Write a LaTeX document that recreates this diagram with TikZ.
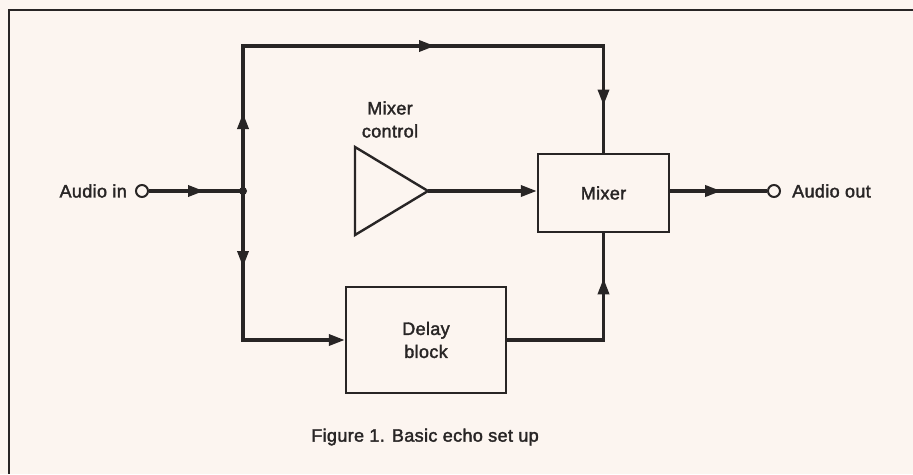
\documentclass[tikz,border=0pt]{standalone}
\usepackage{fontspec}
\setmainfont[FakeBold=2,LetterSpace=2]{Liberation Sans}
\usetikzlibrary{arrows.meta,decorations.markings}
\definecolor{paper}{RGB}{252,245,240}
\definecolor{ink}{RGB}{40,37,37}
\begin{document}
\begin{tikzpicture}[x=1pt,y=-1pt,
  lbl/.style={font=\fontsize{18}{23}\selectfont, text=ink, inner sep=0pt},
  box/.style={draw=ink, line width=2.4pt, lbl, align=center},
  wire/.style={draw=ink, line width=3.4pt},
  tip/.style={-{Triangle[length=16pt,width=11pt]}},
  mk/.style={postaction={decorate, decoration={markings, mark=at position #1 with {\arrow{Triangle[length=16pt,width=11pt]}}}}},
  port/.style={circle, draw=ink, line width=2pt, minimum size=12pt, inner sep=0pt, fill=paper}]
\fill[paper] (0,0) rectangle (913,474);
\useasboundingbox (0,0) rectangle (913,474);
\draw[ink, line width=2.4pt] (913,10) -- (9,10) -- (9,474);

% nodes
\node[port] (ain) at (142,191) {};
\node[lbl, anchor=east] (ainl) at (127,191) {Audio in};
\coordinate (junc) at (243,191);
\node[box, minimum width=131pt, minimum height=78pt] (mixer) at (603.5,193) {Mixer};
\node[port] (aout) at (774,191) {};
\node[lbl, anchor=west] (aoutl) at (792,191) {Audio out};
\node[box, minimum width=160pt, minimum height=106pt] (delay) at (426,340) {Delay\\block};
\node[lbl, align=center] (mc) at (390,119.5) {Mixer\\control};
\node[lbl] (cap) at (425,437) {Figure 1. Basic echo set up};

% amplifier triangle
\coordinate (amptip) at (428,191);
\draw[ink, line width=2.4pt, line join=miter] (355,147) -- (355,235) -- (amptip) -- cycle;

% helper corners
\coordinate (tl) at (243,46);
\coordinate (tr) at (mixer.north |- tl);
\coordinate (bl) at (junc |- delay.west);
\coordinate (br) at (mixer.south |- delay.east);

% connectors
\draw[wire, mk=55pt] (ain) -- (junc);
\draw[wire, mk=78pt, mk=337pt, mk=565pt] (junc) -- (tl) -- (tr) -- (mixer.north);
\draw[wire, tip, mk=76pt] (junc) -- (bl) -- (delay.west);
\draw[wire, mk=158pt] (delay.east) -- (br) -- (mixer.south);
\draw[wire, tip] (amptip) -- (mixer.west |- amptip);
\draw[wire, mk=51pt] (mixer.east |- aout) -- (aout);
\fill[ink] (junc) circle (4pt);
\end{tikzpicture}
\end{document}
